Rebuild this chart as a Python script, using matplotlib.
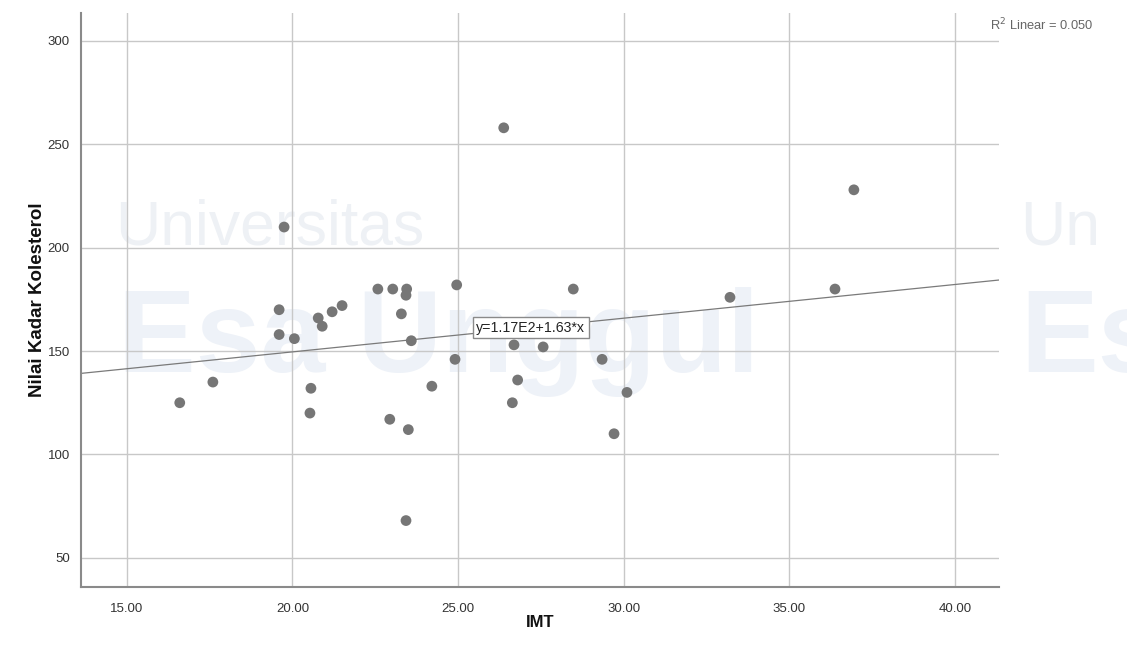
import numpy as np
import matplotlib
matplotlib.use("Agg")
import matplotlib.pyplot as plt

# Données (IMT vs Nilai Kadar Kolesterol)
imt = [16.6, 17.6, 19.6, 19.75, 19.6, 20.06, 20.56, 20.53, 20.78, 20.9,
       21.2, 21.5, 22.58, 23.03, 22.94, 23.29, 23.45, 23.43, 23.5, 23.43,
       23.59, 24.21, 24.91, 24.96, 26.38, 26.69, 26.8, 26.64, 27.57, 28.48,
       29.35, 29.71, 30.1, 33.21, 36.38, 36.95]
kolesterol = [125, 135, 170, 210, 158, 156, 132, 120, 166, 162,
              169, 172, 180, 180, 117, 168, 180, 177, 112, 68,
              155, 133, 146, 182, 258, 153, 136, 125, 152, 180,
              146, 110, 130, 176, 180, 228]

# Droite de régression affichée par SPSS
intercept = 117.0
pente = 1.63
r2 = 0.050

x_ticks = [15, 20, 25, 30, 35, 40]
y_ticks = [50, 100, 150, 200, 250, 300]
x_lim = (13.62, 41.33)
y_lim = (36.0, 313.7)

plt.rcParams["font.family"] = ["Liberation Sans", "DejaVu Sans"]

fig = plt.figure(figsize=(11.27, 6.53), dpi=100)
ax = fig.add_axes([0.0719, 0.1015, 0.8145, 0.8791])
ax.set_facecolor("none")

# Filigrane discret en arrière-plan
ax.text(0.102, 0.625, "Universitas", transform=fig.transFigure, fontsize=45,
        color="#eef1f5", fontweight="light", zorder=0, clip_on=False)
ax.text(0.105, 0.43, "Esa Unggul", transform=fig.transFigure, fontsize=84,
        color="#eef2f8", fontweight="bold", zorder=0, clip_on=False)
ax.text(0.905, 0.625, "Un", transform=fig.transFigure, fontsize=45,
        color="#eef1f5", fontweight="light", zorder=0, clip_on=False)
ax.text(0.905, 0.43, "Es", transform=fig.transFigure, fontsize=84,
        color="#eef2f8", fontweight="bold", zorder=0, clip_on=False)

ax.set_xlim(*x_lim)
ax.set_ylim(*y_lim)
ax.set_xticks(x_ticks)
ax.set_yticks(y_ticks)
ax.set_xticklabels([f"{v:.2f}" for v in x_ticks])
ax.set_yticklabels([str(v) for v in y_ticks])
ax.tick_params(length=0, labelsize=9.5, colors="#333333")
ax.tick_params(axis="x", pad=12)
ax.tick_params(axis="y", pad=8)
ax.grid(True, color="#c8c8c8", linewidth=1.0, zorder=1)
ax.set_axisbelow(True)

for s in ["top", "right"]:
    ax.spines[s].set_visible(False)
for s in ["left", "bottom"]:
    ax.spines[s].set_color("#8a8a8a")
    ax.spines[s].set_linewidth(1.5)

ax.scatter(imt, kolesterol, s=60, color="#767676", edgecolors="none", zorder=3)

# Droite de régression
x_vals = np.array(x_lim)
ax.plot(x_vals, intercept + pente * x_vals, color="#7a7a7a", linewidth=0.9, zorder=2)

x_lab = 27.2
ax.text(x_lab, intercept + pente * x_lab, "y=1.17E2+1.63*x", fontsize=10.2,
        ha="center", va="center", color="#222222", zorder=4,
        bbox=dict(boxstyle="square,pad=0.25", facecolor="white",
                  edgecolor="#8a8a8a", linewidth=1.0))

fig.text(0.878, 0.962, "R$^2$ Linear = " + f"{r2:.3f}", fontsize=9.3,
         color="#666666", ha="left", va="center")

ax.set_xlabel("IMT", fontsize=12, fontweight="bold", labelpad=0, color="#111111")
ax.set_ylabel("Nilai Kadar Kolesterol", fontsize=13.5, fontweight="bold",
              labelpad=1, color="#111111")

fig.savefig("out.png", dpi=100)
